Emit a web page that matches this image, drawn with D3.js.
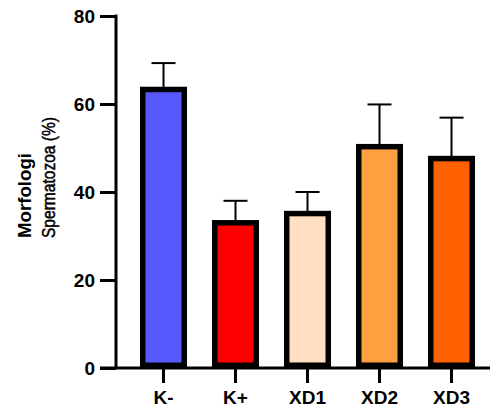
<!DOCTYPE html>
<html>
<head>
<meta charset="utf-8">
<script src="https://cdn.jsdelivr.net/npm/d3@7"></script>
<style>
html,body{margin:0;padding:0;background:#fff;}
svg{display:block;font-family:"Liberation Sans",Arial,sans-serif;}
</style>
</head>
<body>
<svg id="chart" width="492" height="409"></svg>
<script>
const categories = ["K-", "K+", "XD1", "XD2", "XD3"];
const means = [63.3, 33.0, 35.1, 50.3, 47.6];
const errorTops = [69.3, 38.0, 40.0, 59.9, 56.9];
const colors = ["#5858FF", "#FF0000", "#FFDFBF", "#FFA040", "#FF6000"];
const yTicks = [0, 20, 40, 60, 80];

const svg = d3.select("#chart");
const y = d3.scaleLinear().domain([0, 80]).range([368, 16]);
const x = d3.scaleBand().domain(categories).range([127.5, 487.5]).paddingInner(0.347).paddingOuter(0.1735);

const stroke = 5.5;

// error bars (behind bars)
const eg = svg.append("g");
categories.forEach((c, i) => {
  const cx = x(c) + x.bandwidth() / 2;
  eg.append("line").attr("x1", cx).attr("x2", cx)
    .attr("y1", y(means[i])).attr("y2", y(errorTops[i]))
    .attr("stroke", "#000").attr("stroke-width", 2);
  eg.append("line").attr("x1", cx - 12).attr("x2", cx + 12)
    .attr("y1", y(errorTops[i])).attr("y2", y(errorTops[i]))
    .attr("stroke", "#000").attr("stroke-width", 2);
});

// bars
svg.append("g").selectAll("rect").data(categories).join("rect")
  .attr("x", d => x(d) + stroke / 2)
  .attr("width", x.bandwidth() - stroke)
  .attr("y", (d, i) => y(means[i]))
  .attr("height", (d, i) => y(0) - y(means[i]) - stroke / 2)
  .attr("fill", (d, i) => colors[i])
  .attr("stroke", "#000")
  .attr("stroke-width", stroke);

// y axis
const yAxis = svg.append("g").attr("transform", "translate(116,0)")
  .call(d3.axisLeft(y).tickValues(yTicks).tickSize(16).tickPadding(5));
yAxis.select(".domain").attr("stroke-width", 3).attr("d", `M0,${y(80) - 1.5}V${y(0)}`);
yAxis.selectAll(".tick line").attr("stroke-width", 3);
yAxis.selectAll(".tick text").attr("font-size", 19).attr("font-weight", "bold").attr("fill", "#000")
  .attr("font-family", "Liberation Sans, Arial, sans-serif");

// x axis
const xAxis = svg.append("g").attr("transform", "translate(0,368)")
  .call(d3.axisBottom(x).tickSize(15).tickPadding(8));
xAxis.select(".domain").attr("stroke-width", 3).attr("d", "M100,0H490");
xAxis.selectAll(".tick line").attr("stroke-width", 3);
xAxis.selectAll(".tick text").attr("font-size", 19).attr("font-weight", "bold").attr("fill", "#000")
  .attr("font-family", "Liberation Sans, Arial, sans-serif");

// axis title
svg.append("text").attr("transform", "translate(31,238) rotate(-90)")
  .attr("font-size", 19).attr("font-weight", "bold").attr("text-anchor", "start")
  .attr("textLength", 85).attr("lengthAdjust", "spacingAndGlyphs")
  .text("Morfologi");
svg.append("text").attr("transform", "translate(55,238) rotate(-90)")
  .attr("font-size", 19).attr("text-anchor", "start")
  .attr("stroke", "#000").attr("stroke-width", 0.5)
  .attr("textLength", 121).attr("lengthAdjust", "spacingAndGlyphs")
  .text("Spermatozoa (%)");
</script>
</body>
</html>
